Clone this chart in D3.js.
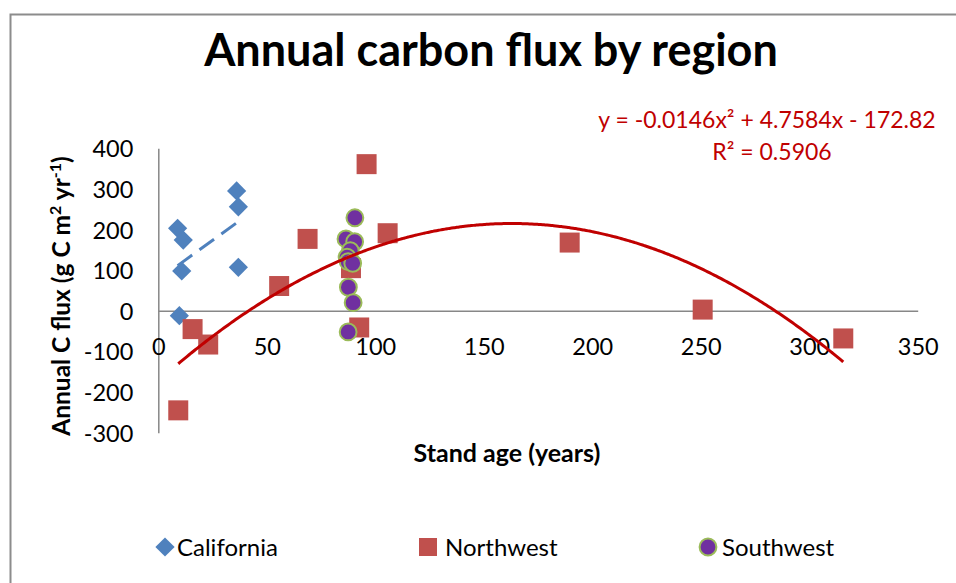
<!DOCTYPE html>
<html>
<head>
<meta charset="utf-8">
<script src="https://cdn.jsdelivr.net/npm/d3@7"></script>
<style>
  body { margin: 0; background: #fff; }
  svg { display: block; font-family: Lato, Carlito, "Noto Sans", sans-serif; }
</style>
</head>
<body>
<svg id="chart" width="956" height="583"></svg>
<script>
// Stand age (years) and annual carbon flux (g C m-2 yr-1) per site
const californiaAge  = [8.9, 11.5, 10.8, 9.7, 36.1, 36.9, 36.9];
const californiaFlux = [203, 174, 98, -12, 295, 256, 107];

const northwestAge  = [9.2, 15.8, 23.0, 55.7, 68.8, 88.8, 92.6, 96.0, 105.7, 189.6, 250.9, 315.7];
const northwestFlux = [-245, -45, -83, 61, 177, 105, -41, 361, 191, 168, 3, -68];

const southwestAge  = [90.6, 86.5, 90.5, 88.5, 87.0, 87.5, 89.6, 87.6, 89.8, 87.5];
const southwestFlux = [229, 177, 170, 148, 132, 121, 117, 58, 20, -52];

const xTicks = [0, 50, 100, 150, 200, 250, 300, 350];
const yTicks = [-300, -200, -100, 0, 100, 200, 300, 400];

// Polynomial (order 2) trend fitted to the Northwest sites
const polyCoef = { a: -0.0146, b: 4.7584, c: -172.82 };
const polyEquation = "y = -0.0146x² + 4.7584x - 172.82";
const polyRSquared = "R² = 0.5906";

const seriesNames = ["California", "Northwest", "Southwest"];

const colors = {
  california: "#4F81BD",
  northwest: "#C0504D",
  southwestFill: "#7030A0",
  southwestStroke: "#9BBB59",
  trend: "#C00000",
  axis: "#878787",
  frame: "#8C8C8C"
};

const zip = (xs, ys) => xs.map((x, i) => ({ x, y: ys[i] }));
const california = zip(californiaAge, californiaFlux);
const northwest = zip(northwestAge, northwestFlux);
const southwest = zip(southwestAge, southwestFlux);

const svg = d3.select("#chart");

// Outer chart frame (runs past the right and bottom edges)
svg.append("rect")
  .attr("x", 10.5).attr("y", 14.5)
  .attr("width", 1200).attr("height", 1200)
  .attr("fill", "#fff")
  .attr("stroke", colors.frame)
  .attr("stroke-width", 2);

const x = d3.scaleLinear().domain([0, 350]).range([158.3, 917.7]);
const y = d3.scaleLinear().domain([-300, 400]).range([432.7, 148.3]);

// Title
svg.append("text")
  .attr("x", 491).attr("y", 66)
  .attr("text-anchor", "middle")
  .attr("font-size", 45).attr("font-weight", "bold")
  .attr("fill", "#000")
  .text("Annual carbon flux by region");

// Axes: plain lines crossing at the origin, no tick marks
const plain = d => String(d);
const yAxis = d3.axisLeft(y).tickValues(yTicks).tickSize(0).tickPadding(25).tickFormat(plain);
const xAxis = d3.axisBottom(x).tickValues(xTicks).tickSize(0).tickPadding(28).tickFormat(plain);

const gy = svg.append("g").attr("transform", `translate(${x(0)},0)`).call(yAxis);
const gx = svg.append("g").attr("transform", `translate(0,${y(0)})`).call(xAxis);

[gx, gy].forEach(g => {
  g.select(".domain").attr("stroke", colors.axis).attr("stroke-width", 1.5);
  g.selectAll("text")
    .attr("font-family", "Lato, Carlito, sans-serif")
    .attr("font-size", 23.5)
    .attr("fill", "#000");
});
gx.selectAll("text").attr("dy", "0.71em");
gy.selectAll("text").attr("dy", "0.36em");

// Axis titles
svg.append("text")
  .attr("x", 507).attr("y", 462)
  .attr("text-anchor", "middle")
  .attr("font-size", 25).attr("font-weight", "bold")
  .text("Stand age (years)");

const yTitle = svg.append("text")
  .attr("transform", "translate(70,296) rotate(-90)")
  .attr("text-anchor", "middle")
  .attr("font-size", 24.5).attr("font-weight", "bold");
yTitle.append("tspan").text("Annual C flux (g C m");
yTitle.append("tspan").attr("baseline-shift", "super").attr("font-size", 16).text("2");
yTitle.append("tspan").text(" yr");
yTitle.append("tspan").attr("baseline-shift", "super").attr("font-size", 16).text("-1");
yTitle.append("tspan").text(")");

// Markers
const diamondPath = d3.symbol(d3.symbolSquare, 185)();
const squarePath = d3.symbol(d3.symbolSquare, 400)();
const circleR = 8.4;

svg.append("g").selectAll("path")
  .data(california).join("path")
  .attr("d", diamondPath)
  .attr("transform", d => `translate(${x(d.x)},${y(d.y)}) rotate(45)`)
  .attr("fill", colors.california);

svg.append("g").selectAll("path")
  .data(northwest).join("path")
  .attr("d", squarePath)
  .attr("transform", d => `translate(${x(d.x)},${y(d.y)})`)
  .attr("fill", colors.northwest);

svg.append("g").selectAll("circle")
  .data(southwest).join("circle")
  .attr("cx", d => x(d.x)).attr("cy", d => y(d.y))
  .attr("r", circleR)
  .attr("fill", colors.southwestFill)
  .attr("stroke", colors.southwestStroke)
  .attr("stroke-width", 2);

// Linear least-squares trend for California (dashed)
const mx = d3.mean(california, d => d.x);
const my = d3.mean(california, d => d.y);
const slope = d3.sum(california, d => (d.x - mx) * (d.y - my)) / d3.sum(california, d => (d.x - mx) ** 2);
const intercept = my - slope * mx;
const [cMin, cMax] = d3.extent(california, d => d.x);
svg.append("line")
  .attr("x1", x(cMin)).attr("y1", y(intercept + slope * cMin))
  .attr("x2", x(cMax)).attr("y2", y(intercept + slope * cMax))
  .attr("stroke", colors.california)
  .attr("stroke-width", 3)
  .attr("stroke-dasharray", "18,9");

// Quadratic trend across the Northwest age range
const [nMin, nMax] = d3.extent(northwest, d => d.x);
const poly = v => polyCoef.a * v * v + polyCoef.b * v + polyCoef.c;
const curvePts = d3.range(nMin, nMax, 1).concat([nMax]).map(v => [v, poly(v)]);
svg.append("path")
  .datum(curvePts)
  .attr("fill", "none")
  .attr("stroke", colors.trend)
  .attr("stroke-width", 3)
  .attr("d", d3.line().x(d => x(d[0])).y(d => y(d[1])).curve(d3.curveMonotoneX));

svg.append("text")
  .attr("x", 767).attr("y", 128)
  .attr("text-anchor", "middle")
  .attr("font-size", 23).attr("fill", colors.trend)
  .text(polyEquation);
svg.append("text")
  .attr("x", 772).attr("y", 160)
  .attr("text-anchor", "middle")
  .attr("font-size", 23).attr("fill", colors.trend)
  .text(polyRSquared);

// Legend
const legendItems = [
  { name: seriesNames[0], mx: 165, tx: 177 },
  { name: seriesNames[1], mx: 428, tx: 445 },
  { name: seriesNames[2], mx: 708, tx: 722 }
];
const legendY = 547;
const lg = svg.append("g");
lg.append("path").attr("d", diamondPath)
  .attr("transform", `translate(${legendItems[0].mx},${legendY}) rotate(45)`)
  .attr("fill", colors.california);
lg.append("path").attr("d", d3.symbol(d3.symbolSquare, 324)())
  .attr("transform", `translate(${legendItems[1].mx},${legendY})`)
  .attr("fill", colors.northwest);
lg.append("circle").attr("cx", legendItems[2].mx).attr("cy", legendY).attr("r", circleR)
  .attr("fill", colors.southwestFill).attr("stroke", colors.southwestStroke).attr("stroke-width", 2);
lg.selectAll("text").data(legendItems).join("text")
  .attr("x", d => d.tx).attr("y", legendY + 9)
  .attr("font-size", 24)
  .text(d => d.name);
</script>
</body>
</html>
